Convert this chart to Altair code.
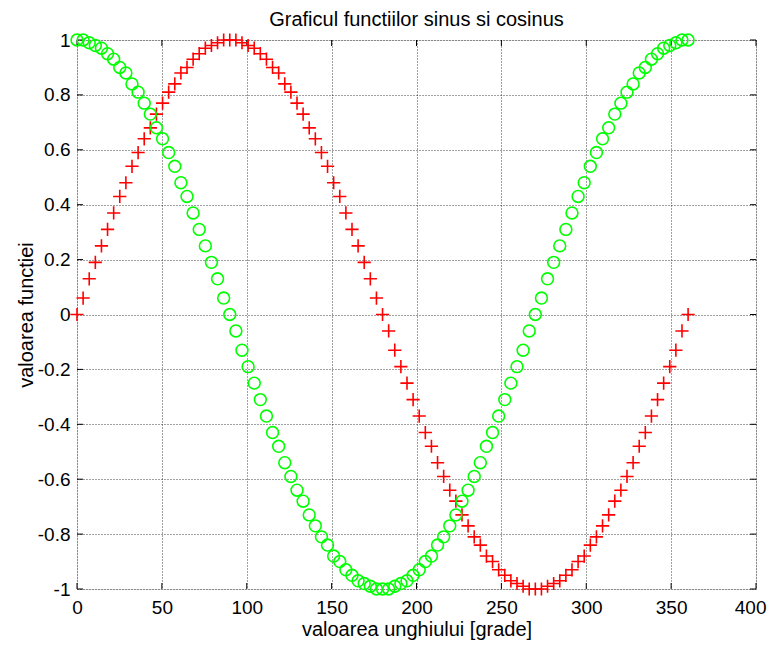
import altair as alt
import pandas as pd

# angle values (degrees)
x_vals = [0, 3.6, 7.2, 10.8, 14.4, 18, 21.6, 25.2, 28.8, 32.4, 36, 39.6, 43.2, 46.8, 50.4,
          54, 57.6, 61.2, 64.8, 68.4, 72, 75.6, 79.2, 82.8, 86.4, 90, 93.6, 97.2, 100.8, 104.4,
          108, 111.6, 115.2, 118.8, 122.4, 126, 129.6, 133.2, 136.8, 140.4, 144, 147.6, 151.2,
          154.8, 158.4, 162, 165.6, 169.2, 172.8, 176.4, 180, 183.6, 187.2, 190.8, 194.4, 198,
          201.6, 205.2, 208.8, 212.4, 216, 219.6, 223.2, 226.8, 230.4, 234, 237.6, 241.2, 244.8,
          248.4, 252, 255.6, 259.2, 262.8, 266.4, 270, 273.6, 277.2, 280.8, 284.4, 288, 291.6,
          295.2, 298.8, 302.4, 306, 309.6, 313.2, 316.8, 320.4, 324, 327.6, 331.2, 334.8, 338.4,
          342, 345.6, 349.2, 352.8, 356.4, 360]

sin_vals = [0, 0.06, 0.13, 0.19, 0.25, 0.31, 0.37, 0.43, 0.48, 0.54, 0.59, 0.64, 0.68, 0.73, 0.77,
            0.81, 0.84, 0.88, 0.90, 0.93, 0.95, 0.97, 0.98, 0.99, 1.00, 1.00,
            1.00, 0.99, 0.98, 0.97, 0.95, 0.93, 0.90, 0.88, 0.84, 0.81, 0.77, 0.73, 0.68, 0.64,
            0.59, 0.54, 0.48, 0.43, 0.37, 0.31, 0.25, 0.19, 0.13, 0.06, 0,
            -0.06, -0.13, -0.19, -0.25, -0.31, -0.37, -0.43, -0.48, -0.54, -0.59, -0.64, -0.68,
            -0.73, -0.77, -0.81, -0.84, -0.88, -0.90, -0.93, -0.95, -0.97, -0.98, -0.99, -1.00, -1.00,
            -1.00, -0.99, -0.98, -0.97, -0.95, -0.93, -0.90, -0.88, -0.84, -0.81, -0.77, -0.73,
            -0.68, -0.64, -0.59, -0.54, -0.48, -0.43, -0.37, -0.31, -0.25, -0.19, -0.13, -0.06, 0]

cos_vals = [1.00, 1.00, 0.99, 0.98, 0.97, 0.95, 0.93, 0.90, 0.88, 0.84, 0.81, 0.77, 0.73, 0.68,
            0.64, 0.59, 0.54, 0.48, 0.43, 0.37, 0.31, 0.25, 0.19, 0.13, 0.06, 0,
            -0.06, -0.13, -0.19, -0.25, -0.31, -0.37, -0.43, -0.48, -0.54, -0.59, -0.64, -0.68,
            -0.73, -0.77, -0.81, -0.84, -0.88, -0.90, -0.93, -0.95, -0.97, -0.98, -0.99, -1.00, -1.00,
            -1.00, -0.99, -0.98, -0.97, -0.95, -0.93, -0.90, -0.88, -0.84, -0.81, -0.77, -0.73,
            -0.68, -0.64, -0.59, -0.54, -0.48, -0.43, -0.37, -0.31, -0.25, -0.19, -0.13, -0.06, 0,
            0.06, 0.13, 0.19, 0.25, 0.31, 0.37, 0.43, 0.48, 0.54, 0.59, 0.64, 0.68, 0.73, 0.77,
            0.81, 0.84, 0.88, 0.90, 0.93, 0.95, 0.97, 0.98, 0.99, 1.00, 1.00]

x_ticks = [0, 50, 100, 150, 200, 250, 300, 350, 400]
y_ticks = [-1, -0.8, -0.6, -0.4, -0.2, 0, 0.2, 0.4, 0.6, 0.8, 1]

W, H = 679, 549
FONT = "Liberation Sans"
FS = 19

df = pd.DataFrame({"x": x_vals, "sin": sin_vals, "cos": cos_vals})
xt = pd.DataFrame({"t": x_ticks})
yt = pd.DataFrame({"t": y_ticks})

xscale = alt.Scale(domain=[0, 400], nice=False, zero=False)
yscale = alt.Scale(domain=[-1, 1], nice=False, zero=False)

common = dict(grid=True, gridColor="#000000", gridDash=[1, 2], gridOpacity=0.75, gridWidth=1,
              domain=False, ticks=False, labelFont=FONT, labelFontSize=FS, labelColor="black",
              labelFlush=False, labelOverlap=False, titleFont=FONT, titleFontSize=FS + 1,
              titleFontWeight="normal", titleColor="black",
              labelExpr="replace(format(datum.value, '~g'), '\u2212', '-')")

xaxis = alt.Axis(values=x_ticks, title="valoarea unghiului [grade]", labelPadding=9,
                 titlePadding=2,
                 labelAlign=alt.condition("datum.value == 400", alt.value("right"), alt.value("center")),
                 labelOffset=alt.condition("datum.value == 400", alt.value(10), alt.value(0)),
                 **common)
yaxis = alt.Axis(values=y_ticks, title="valoarea functiei", labelPadding=7,
                 titlePadding=1, **common)

plus_path = "M-1,0H1M0,-1V1"

sin_layer = alt.Chart(df).mark_point(shape=plus_path, filled=False, stroke="#ff0000",
                                     strokeWidth=1.6, size=175, opacity=1).encode(
    x=alt.X("x:Q", scale=xscale, axis=xaxis),
    y=alt.Y("sin:Q", scale=yscale, axis=yaxis),
)
cos_layer = alt.Chart(df).mark_point(shape="circle", filled=False, stroke="#00ff00",
                                     strokeWidth=1.6, size=140, opacity=1).encode(
    x=alt.X("x:Q", scale=xscale),
    y=alt.Y("cos:Q", scale=yscale),
)

tl = 6
xt_bottom = alt.Chart(xt).mark_rule(color="black", strokeWidth=1).encode(
    x=alt.X("t:Q", scale=xscale), y=alt.value(H), y2=alt.value(H - tl))
xt_top = alt.Chart(xt).mark_rule(color="black", strokeWidth=1).encode(
    x=alt.X("t:Q", scale=xscale), y=alt.value(0), y2=alt.value(tl))
yt_left = alt.Chart(yt).mark_rule(color="black", strokeWidth=1).encode(
    y=alt.Y("t:Q", scale=yscale), x=alt.value(0), x2=alt.value(tl))
yt_right = alt.Chart(yt).mark_rule(color="black", strokeWidth=1).encode(
    y=alt.Y("t:Q", scale=yscale), x=alt.value(W), x2=alt.value(W - tl))

chart = alt.layer(xt_bottom, xt_top, yt_left, yt_right, sin_layer, cos_layer).properties(
    width=W, height=H,
    title=alt.TitleParams("Graficul functiilor sinus si cosinus", font=FONT, fontSize=FS + 1,
                          fontWeight="normal", color="black", offset=0),
    autosize=alt.AutoSizeParams(type="none"),
    padding={"left": 69, "top": 32, "right": 11, "bottom": 53},
).configure_view(stroke="black", strokeWidth=1.3).configure(background="white")

chart.save("out.html", embed_options={"renderer": "svg", "actions": False})
